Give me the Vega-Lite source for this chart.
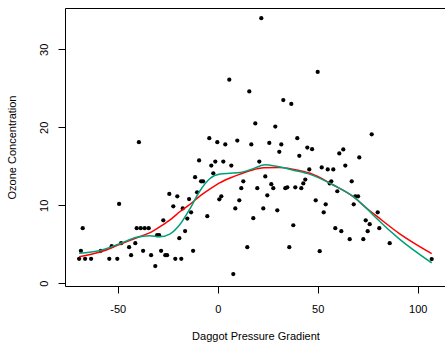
{
  "$schema": "https://vega.github.io/schema/vega-lite/v6.json",
  "width": 381,
  "height": 278,
  "autosize": {"type": "none"},
  "padding": {"left": 65, "top": 8, "right": 0, "bottom": 58},
  "background": "white",
  "config": {
    "view": {"stroke": "black", "strokeWidth": 1},
    "font": "Liberation Sans"
  },
  "datasets": {
    "pts": [
      {"x": -39.4, "y": 18.1}, {"x": 21.8, "y": 34.0}, {"x": 5.8, "y": 26.1}, {"x": 15.8, "y": 24.6},
      {"x": 32.8, "y": 23.5}, {"x": 36.8, "y": 23.0}, {"x": 18.8, "y": 20.5}, {"x": 28.8, "y": 20.1},
      {"x": -4.2, "y": 18.6}, {"x": -0.2, "y": 18.1}, {"x": 3.8, "y": 17.8}, {"x": 9.8, "y": 18.3},
      {"x": 16.8, "y": 17.8}, {"x": 25.8, "y": 18.0}, {"x": 31.8, "y": 17.8}, {"x": 39.8, "y": 18.6},
      {"x": 50, "y": 27.1}, {"x": 77, "y": 19.1}, {"x": -67.5, "y": 7.06}, {"x": -68.4, "y": 4.16},
      {"x": -69.3, "y": 3.13}, {"x": -66.3, "y": 3.13}, {"x": -63.3, "y": 3.13}, {"x": -58.5, "y": 4.16},
      {"x": -54.2, "y": 3.13}, {"x": -50.2, "y": 3.13}, {"x": -49.3, "y": 10.17}, {"x": -53.0, "y": 4.75},
      {"x": -48.3, "y": 5.14}, {"x": -44.3, "y": 4.63}, {"x": -43.3, "y": 3.6}, {"x": -41.2, "y": 5.14},
      {"x": -40.5, "y": 7.06}, {"x": -38.5, "y": 7.06}, {"x": -36.5, "y": 7.06}, {"x": -34.5, "y": 7.06},
      {"x": -37.3, "y": 4.16}, {"x": -33.3, "y": 3.6}, {"x": -31.2, "y": 2.2}, {"x": -30.3, "y": 6.16},
      {"x": -29.3, "y": 6.16}, {"x": -28.3, "y": 4.16}, {"x": -27.2, "y": 8.08}, {"x": -26.2, "y": 3.6},
      {"x": -25.3, "y": 3.6}, {"x": -24.2, "y": 11.45}, {"x": -21.2, "y": 3.13}, {"x": -20.2, "y": 11.15},
      {"x": -22.2, "y": 9.87}, {"x": -19.2, "y": 5.78}, {"x": -18.2, "y": 3.13}, {"x": -17.5, "y": 9.6},
      {"x": -16.3, "y": 6.7}, {"x": -15.2, "y": 8.3}, {"x": -14.3, "y": 10.8}, {"x": 30.8, "y": 16.85},
      {"x": 40.8, "y": 16.35}, {"x": -9.3, "y": 15.75}, {"x": -1.2, "y": 15.6}, {"x": 2.8, "y": 15.6},
      {"x": -3.2, "y": 15.1}, {"x": 6.8, "y": 15.1}, {"x": 20.8, "y": 15.6}, {"x": -2.2, "y": 14.1},
      {"x": -11.3, "y": 13.6}, {"x": 23.8, "y": 13.7}, {"x": 12.8, "y": 13.07}, {"x": -8.3, "y": 13.07},
      {"x": -7.3, "y": 13.07}, {"x": 26.8, "y": 12.7}, {"x": 27.8, "y": 12.2}, {"x": 11.8, "y": 12.2},
      {"x": 19.8, "y": 12.2}, {"x": 33.8, "y": 12.2}, {"x": 34.8, "y": 12.3}, {"x": 38.8, "y": 12.3},
      {"x": 41.8, "y": 12.2}, {"x": 42.8, "y": 12.8}, {"x": 43.8, "y": 13.3}, {"x": -10.3, "y": 11.66},
      {"x": 24.8, "y": 11.28}, {"x": 1.8, "y": 11.15}, {"x": 0.8, "y": 10.77}, {"x": 10.8, "y": 10.64},
      {"x": -13.3, "y": 9.1}, {"x": 8.8, "y": 9.6}, {"x": 22.8, "y": 9.6}, {"x": 29.8, "y": 9.36},
      {"x": -5.2, "y": 8.6}, {"x": 17.8, "y": 8.34}, {"x": 37.8, "y": 7.44}, {"x": -12.3, "y": 4.16},
      {"x": 14.8, "y": 4.63}, {"x": 35.8, "y": 4.63}, {"x": 7.8, "y": 1.18}, {"x": 44.8, "y": 17.4},
      {"x": 47.2, "y": 17.2}, {"x": 60.8, "y": 16.65}, {"x": 62.8, "y": 17.16}, {"x": 70.8, "y": 16.14},
      {"x": 63.8, "y": 15.1}, {"x": 52, "y": 14.86}, {"x": 55, "y": 14.6}, {"x": 57.8, "y": 14.6},
      {"x": 45.8, "y": 14.6}, {"x": 56.8, "y": 13.07}, {"x": 56, "y": 12.8}, {"x": 67, "y": 13.07},
      {"x": 59.8, "y": 11.8}, {"x": 68.8, "y": 11.15}, {"x": 70.2, "y": 11.15}, {"x": 49, "y": 10.64},
      {"x": 54, "y": 10.13}, {"x": 68, "y": 10.13}, {"x": 53, "y": 9.1}, {"x": 80, "y": 9.1},
      {"x": 74, "y": 8.08}, {"x": 76, "y": 7.57}, {"x": 80.8, "y": 7.06}, {"x": 58.8, "y": 7.06},
      {"x": 61.8, "y": 6.68}, {"x": 75, "y": 6.68}, {"x": 66, "y": 5.65}, {"x": 72.8, "y": 5.65},
      {"x": 86, "y": 5.14}, {"x": 51, "y": 4.12}, {"x": 107, "y": 3.1}
    ],
    "redline": [
      {"x": -69.3, "y": 3.4}, {"x": -58.8, "y": 4.0}, {"x": -48.8, "y": 5.0}, {"x": -38.8, "y": 6.0},
      {"x": -33, "y": 6.6}, {"x": -28, "y": 7.4}, {"x": -23, "y": 8.3}, {"x": -18.8, "y": 9.2},
      {"x": -13.5, "y": 10.2}, {"x": -8.8, "y": 11.2}, {"x": -3.8, "y": 12.1}, {"x": 1.2, "y": 12.9},
      {"x": 6.2, "y": 13.5}, {"x": 11.2, "y": 14.0}, {"x": 17, "y": 14.5}, {"x": 23, "y": 14.8},
      {"x": 31, "y": 14.85}, {"x": 38, "y": 14.6}, {"x": 46.2, "y": 14.1}, {"x": 57.8, "y": 12.6},
      {"x": 67.8, "y": 11.1}, {"x": 74.5, "y": 9.6}, {"x": 79.5, "y": 8.6}, {"x": 91.2, "y": 6.3},
      {"x": 107, "y": 3.8}
    ],
    "greenline": [
      {"x": -69.3, "y": 3.85}, {"x": -58.8, "y": 4.2}, {"x": -48.8, "y": 5.1}, {"x": -40.5, "y": 5.9},
      {"x": -34, "y": 6.1}, {"x": -29, "y": 5.95}, {"x": -24, "y": 6.3}, {"x": -19, "y": 7.5},
      {"x": -14, "y": 9.5}, {"x": -9, "y": 11.8}, {"x": -4, "y": 13.4}, {"x": 1.2, "y": 14.0},
      {"x": 6.2, "y": 14.1}, {"x": 11.2, "y": 14.2}, {"x": 17.8, "y": 14.7}, {"x": 23.7, "y": 15.2},
      {"x": 29.5, "y": 15.0}, {"x": 37.8, "y": 14.5}, {"x": 46.2, "y": 13.96}, {"x": 57.8, "y": 12.6},
      {"x": 67.8, "y": 11.1}, {"x": 74.5, "y": 9.6}, {"x": 79.5, "y": 8.3}, {"x": 91.2, "y": 5.6},
      {"x": 107, "y": 2.62}
    ]
  },
  "encoding": {
    "x": {
      "field": "x", "type": "quantitative",
      "scale": {"domain": [-76.35, 114.15], "nice": false, "zero": false},
      "axis": {
        "values": [-50, 0, 50, 100], "domain": false, "grid": false,
        "labelExpr": "'' + datum.value",
        "tickSize": 7, "tickColor": "black", "tickWidth": 1,
        "labelFontSize": 11, "labelColor": "black", "labelPadding": 10, "labelFont": "Liberation Sans",
        "title": "Daggot Pressure Gradient", "titleFontSize": 11, "titleFontWeight": "normal",
        "titleColor": "black", "titleFont": "Liberation Sans",
        "titleX": 190.5, "titleY": 50, "titleBaseline": "middle", "titleAlign": "center"
      }
    },
    "y": {
      "field": "y", "type": "quantitative",
      "scale": {"domain": [-0.35, 35.3], "nice": false, "zero": false},
      "axis": {
        "values": [0, 10, 20, 30], "domain": false, "grid": false,
        "labelExpr": "'' + datum.value",
        "tickSize": 7, "tickColor": "black", "tickWidth": 1,
        "labelFontSize": 11, "labelColor": "black", "labelPadding": 9, "labelFont": "Liberation Sans",
        "labelAngle": 270, "labelAlign": "center", "labelBaseline": "bottom",
        "title": "Ozone Concentration", "titleFontSize": 11, "titleFontWeight": "normal",
        "titleColor": "black", "titleFont": "Liberation Sans",
        "titleAngle": 270, "titleX": -53, "titleY": 139, "titleBaseline": "middle", "titleAlign": "center"
      }
    }
  },
  "layer": [
    {
      "data": {"name": "pts"},
      "mark": {"type": "point", "filled": true, "shape": "circle", "size": 18, "color": "black", "opacity": 1}
    },
    {
      "data": {"name": "redline"},
      "mark": {"type": "line", "color": "#FF0000", "strokeWidth": 1.5, "interpolate": "monotone"}
    },
    {
      "data": {"name": "greenline"},
      "mark": {"type": "line", "color": "#00A078", "strokeWidth": 1.5, "interpolate": "monotone"}
    }
  ]
}
